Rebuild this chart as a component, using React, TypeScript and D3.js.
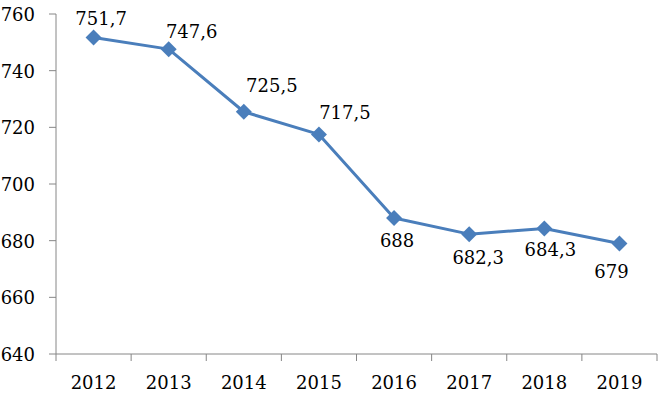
import React, { useEffect, useRef } from 'react'
import * as d3 from 'd3'

const years = ['2012', '2013', '2014', '2015', '2016', '2017', '2018', '2019']
const values = [751.7, 747.6, 725.5, 717.5, 688, 682.3, 684.3, 679]
const valueLabels = ['751,7', '747,6', '725,5', '717,5', '688', '682,3', '684,3', '679']
const yTicks = [640, 660, 680, 700, 720, 740, 760]

// hand-placed label offsets (px) like in the original
const labelDx = [7.5, 23, 28, 26, 3, 9, 6, -8]
const labelDy = [-20, -18, -27, -22, 22, 23, 21, 27]

export default function App() {
  const ref = useRef<SVGSVGElement>(null)

  useEffect(() => {
    const width = 667,
      height = 399
    const left = 56,
      right = 657,
      top = 14,
      bottom = 354
    const axisColor = '#868686'
    const lineColor = '#4a7ebb'
    const font = '"DejaVu Serif", serif'
    const fs = 18

    const svg = d3.select(ref.current)
    svg.selectAll('*').remove()
    svg.attr('width', width).attr('height', height)

    const x = d3.scaleBand<string>().domain(years).range([left, right])
    const y = d3.scaleLinear().domain([640, 760]).range([bottom, top])

    // y axis
    const yAxis = svg.append('g').attr('transform', 'translate(' + left + ',0)')
    yAxis.append('line').attr('y1', y(760)).attr('y2', y(640)).attr('stroke', axisColor)
    yAxis
      .selectAll('line.tick')
      .data(yTicks)
      .enter()
      .append('line')
      .attr('class', 'tick')
      .attr('x1', -7)
      .attr('x2', 0)
      .attr('y1', (d) => y(d))
      .attr('y2', (d) => y(d))
      .attr('stroke', axisColor)
    yAxis
      .selectAll('text')
      .data(yTicks)
      .enter()
      .append('text')
      .attr('x', -21)
      .attr('y', (d) => y(d) + 7)
      .attr('text-anchor', 'end')
      .style('font-family', font)
      .attr('font-size', fs)
      .text((d) => d)

    // x axis
    const xAxis = svg.append('g').attr('transform', 'translate(0,' + bottom + ')')
    xAxis.append('line').attr('x1', left).attr('x2', right).attr('stroke', axisColor)
    const bounds = years.map((d) => x(d) as number).concat([right])
    xAxis
      .selectAll('line.tick')
      .data(bounds)
      .enter()
      .append('line')
      .attr('class', 'tick')
      .attr('x1', (d) => d)
      .attr('x2', (d) => d)
      .attr('y1', 0)
      .attr('y2', 7)
      .attr('stroke', axisColor)
    xAxis
      .selectAll('text')
      .data(years)
      .enter()
      .append('text')
      .attr('x', (d) => (x(d) as number) + x.bandwidth() / 2)
      .attr('y', 35)
      .attr('text-anchor', 'middle')
      .style('font-family', font)
      .attr('font-size', fs)
      .text((d) => d)

    const cx = (i: number) => (x(years[i]) as number) + x.bandwidth() / 2

    // line
    const line = d3
      .line<number>()
      .x((d, i) => cx(i))
      .y((d) => y(d))
    svg
      .append('path')
      .datum(values)
      .attr('d', line)
      .attr('fill', 'none')
      .attr('stroke', lineColor)
      .attr('stroke-width', 3)
      .attr('stroke-linejoin', 'round')

    // diamond markers
    const diamond = d3.symbol().type(d3.symbolSquare).size(128)
    svg
      .append('g')
      .selectAll('path')
      .data(values)
      .enter()
      .append('path')
      .attr('d', diamond)
      .attr('transform', (d, i) => 'translate(' + cx(i) + ',' + y(d) + ') rotate(45)')
      .attr('fill', lineColor)

    // data labels
    svg
      .append('g')
      .selectAll('text')
      .data(values)
      .enter()
      .append('text')
      .attr('x', (d, i) => cx(i) + labelDx[i])
      .attr('y', (d, i) => y(d) + labelDy[i] + 7)
      .attr('text-anchor', 'middle')
      .style('font-family', font)
      .attr('font-size', fs)
      .attr('fill', '#000')
      .text((d, i) => valueLabels[i])
  }, [])

  return (
    <div style={{ position: 'absolute', left: 0, top: 0 }}>
      <svg ref={ref} style={{ display: 'block' }}></svg>
    </div>
  )
}
